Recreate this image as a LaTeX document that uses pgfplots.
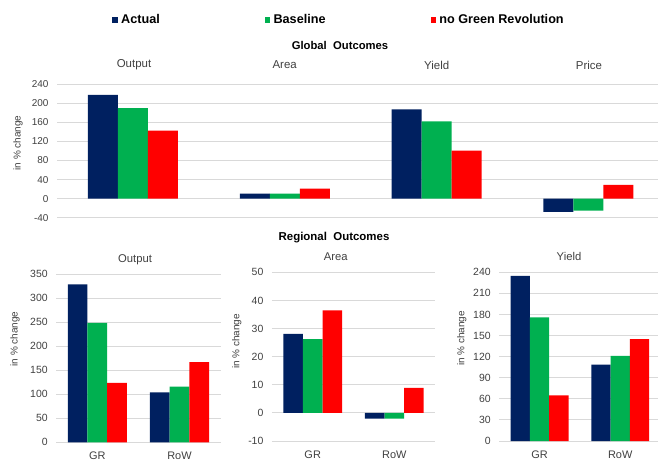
\documentclass[border=0pt]{standalone}
\usepackage{fontspec}
\setmainfont{Liberation Sans}
\usepackage{pgfplots}
\pgfplotsset{compat=1.18}

\definecolor{cAct}{HTML}{002060}
\definecolor{cBase}{HTML}{00B050}
\definecolor{cNoGR}{HTML}{FF0000}
\definecolor{cGrid}{HTML}{D9D9D9}
\definecolor{cText}{HTML}{404040}

\pgfplotsset{
  panel/.style={
    scale only axis,
    anchor=north west,
    ybar=0pt,
    axis line style={draw=none},
    tick style={draw=none},
    ymajorgrids,
    major grid style={cGrid, line width=0.9bp},
    xmin=-0.5, xmax=1.5,
    /pgf/number format/assume math mode=true,
    yticklabel style={font=\fontsize{10.5}{12}\selectfont, text=cText, xshift=-5bp},
    xticklabel style={font=\fontsize{11}{13}\selectfont, text=cText, yshift=-2bp},
  },
  sq/.style={legend image code/.code={\fill[#1] (0bp,-2.6bp) rectangle (5.2bp,2.6bp);}},
}

\begin{document}
\begin{tikzpicture}
\useasboundingbox (0bp,0bp) rectangle (658bp,-462bp);

% ---------- Global outcomes ----------
\begin{axis}[panel,
  at={(57bp,-84.3bp)}, width=601bp, height=133.4bp,
  xmin=-0.5, xmax=3.458,
  ymin=-40, ymax=240, ytick={-40,0,...,240},
  xtick=\empty,
  bar width=30bp,
  yticklabel style={font=\fontsize{10}{12}\selectfont},
  legend columns=3,
  legend style={draw=none, fill=none, at={(0.087,1.482)}, anchor=west,
    font=\fontsize{12.7}{14}\selectfont\bfseries,
    /tikz/every odd column/.append style={column sep=2.5bp},
    /tikz/every even column/.append style={column sep=104bp},
    nodes={inner sep=1bp}},
]
\addplot[fill=cAct, draw=none, sq=cAct] coordinates {(0,218) (1,10.5) (2,187.5) (3,-28)};
\addplot[fill=cBase, draw=none, sq=cBase] coordinates {(0,190) (1,10.5) (2,162) (3,-25)};
\addplot[fill=cNoGR, draw=none, sq=cNoGR] coordinates {(0,143) (1,21) (2,101) (3,29)};
\legend{Actual, Baseline, no Green Revolution}
\end{axis}

% ---------- Regional: Output ----------
\begin{axis}[panel,
  at={(56.2bp,-274.3bp)}, width=164.4bp, height=168bp,
  ymin=0, ymax=350, ytick={0,50,...,350},
  xtick={0,1}, xticklabels={GR,RoW},
  bar width=19.7bp,
]
\addplot[fill=cAct, draw=none] coordinates {(0,329) (1,104)};
\addplot[fill=cBase, draw=none] coordinates {(0,249) (1,116)};
\addplot[fill=cNoGR, draw=none] coordinates {(0,124) (1,167)};
\end{axis}

% ---------- Regional: Area ----------
\begin{axis}[panel,
  at={(271.9bp,-272.3bp)}, width=163.2bp, height=168.7bp,
  ymin=-10, ymax=50, ytick={-10,0,...,50},
  xtick={0,1}, xticklabels={GR,RoW},
  bar width=19.6bp,
]
\addplot[fill=cAct, draw=none] coordinates {(0,28.1) (1,-2)};
\addplot[fill=cBase, draw=none] coordinates {(0,26.2) (1,-2)};
\addplot[fill=cNoGR, draw=none] coordinates {(0,36.5) (1,8.9)};
\end{axis}

% ---------- Regional: Yield ----------
\begin{axis}[panel,
  at={(499.2bp,-272.3bp)}, width=161.4bp, height=168.7bp,
  ymin=0, ymax=240, ytick={0,30,...,240},
  xtick={0,1}, xticklabels={GR,RoW},
  bar width=19.3bp,
]
\addplot[fill=cAct, draw=none] coordinates {(0,235) (1,108.5)};
\addplot[fill=cBase, draw=none] coordinates {(0,176) (1,121)};
\addplot[fill=cNoGR, draw=none] coordinates {(0,65) (1,145)};
\end{axis}

% ---------- titles and labels ----------
\node[font=\fontsize{11.3}{13}\selectfont\bfseries] at (340bp,-45bp) {Global\ \ Outcomes};
\begin{scope}[every node/.style={font=\fontsize{11.5}{13}\selectfont, text=cText}]
\node at (134bp,-65bp) {Output};
\node at (284.7bp,-65bp) {Area};
\node at (436.7bp,-65bp) {Yield};
\node at (589bp,-65bp) {Price};
\end{scope}
\node[font=\fontsize{10}{12}\selectfont, text=cText, rotate=90] at (18bp,-143bp) {in \% change};

\node[font=\fontsize{11.5}{13}\selectfont\bfseries] at (334bp,-238bp) {Regional\ \ Outcomes};
\begin{scope}[every node/.style={font=\fontsize{11.3}{13}\selectfont, text=cText}]
\node at (135bp,-260bp) {Output};
\node at (335.7bp,-256.7bp) {Area};
\node at (569bp,-256.7bp) {Yield};
\end{scope}
\begin{scope}[every node/.style={font=\fontsize{10}{12}\selectfont, text=cText, rotate=90}]
\node at (15bp,-339bp) {in \% change};
\node at (236.7bp,-341.5bp) {in \% change};
\node at (461.7bp,-338.5bp) {in \% change};
\end{scope}
\end{tikzpicture}
\end{document}
